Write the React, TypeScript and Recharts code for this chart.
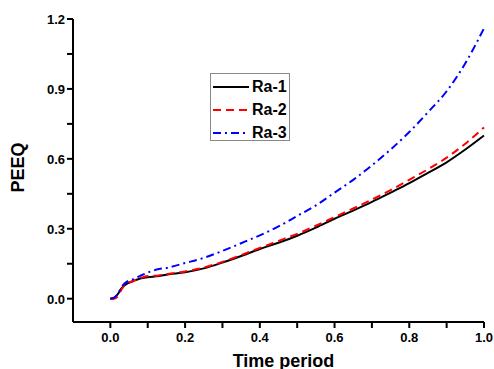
import React from 'react';
import { LineChart, Line, XAxis, YAxis } from 'recharts';

const timePeriod = [0, 0.01, 0.02, 0.03, 0.04, 0.06, 0.08, 0.1, 0.13, 0.15, 0.2, 0.25, 0.3, 0.35, 0.4, 0.45, 0.5, 0.55, 0.6, 0.65, 0.7, 0.75, 0.8, 0.85, 0.9, 0.95, 1.0];
const ra1 = [0, 0.003, 0.02, 0.045, 0.06, 0.075, 0.087, 0.092, 0.097, 0.103, 0.113, 0.13, 0.155, 0.183, 0.213, 0.24, 0.27, 0.305, 0.343, 0.378, 0.415, 0.455, 0.496, 0.54, 0.585, 0.64, 0.7];
const ra2 = [0, 0, 0.01, 0.04, 0.06, 0.075, 0.088, 0.097, 0.1, 0.105, 0.117, 0.134, 0.158, 0.187, 0.218, 0.248, 0.278, 0.313, 0.35, 0.387, 0.425, 0.466, 0.51, 0.555, 0.605, 0.665, 0.735];
const ra3 = [0, 0.005, 0.02, 0.05, 0.068, 0.083, 0.098, 0.112, 0.127, 0.132, 0.153, 0.175, 0.205, 0.238, 0.272, 0.31, 0.355, 0.4, 0.455, 0.51, 0.572, 0.64, 0.715, 0.8, 0.89, 1.01, 1.16];

const xTicks = [0, 0.1, 0.2, 0.3, 0.4, 0.5, 0.6, 0.7, 0.8, 0.9, 1.0];
const xLabels = [0, 0.2, 0.4, 0.6, 0.8, 1.0];
const yTicks = [0, 0.15, 0.3, 0.45, 0.6, 0.75, 0.9, 1.05, 1.2];
const yLabels = [0, 0.3, 0.6, 0.9, 1.2];

const data = timePeriod.map((t, i) => ({ t, ra1: ra1[i], ra2: ra2[i], ra3: ra3[i] }));

const FONT = 'Arial, Liberation Sans, sans-serif';

const isLabel = (list: number[], v: number) => list.some((l) => Math.abs(l - v) < 1e-6);

const XTick = (props: any) => {
  const { x, y, payload } = props;
  const show = isLabel(xLabels, payload.value);
  return (
    <text x={x} y={y + 12} textAnchor="middle" fontSize={13} fontWeight="bold" fontFamily={FONT} fill="#000">
      {show ? payload.value.toFixed(1) : ''}
    </text>
  );
};

const YTick = (props: any) => {
  const { x, y, payload } = props;
  const show = isLabel(yLabels, payload.value);
  return (
    <text x={x} y={y + 5} textAnchor="end" fontSize={13} fontWeight="bold" fontFamily={FONT} fill="#000">
      {show ? payload.value.toFixed(1) : ''}
    </text>
  );
};

const legendItems = [
  { name: 'Ra-1', color: '#000000', dash: undefined },
  { name: 'Ra-2', color: '#ff0000', dash: '8 5' },
  { name: 'Ra-3', color: '#0000ff', dash: '8 4 2 4' },
];

export default function App() {
  return (
    <div style={{ position: 'absolute', left: 0, top: 0, width: 494, height: 369, background: '#fff' }}>
      <LineChart width={494} height={369} data={data} margin={{ top: 19, right: 10, left: 0, bottom: 0 }}>
        <XAxis
          dataKey="t"
          type="number"
          domain={[-0.1, 1.0]}
          ticks={xTicks}
          interval={0}
          tick={<XTick />}
          stroke="#000"
          strokeWidth={2}
          height={47}
          label={{ value: 'Time period', position: 'insideBottom', offset: 2, fill: '#000', fontSize: 18, fontWeight: 'bold', fontFamily: FONT, dx: 5 }}
        />
        <YAxis
          type="number"
          domain={[-0.1, 1.2]}
          ticks={yTicks}
          interval={0}
          tick={<YTick />}
          stroke="#000"
          strokeWidth={2}
          width={73}
          label={{ value: 'PEEQ', angle: -90, position: 'insideLeft', offset: 18, fill: '#000', fontSize: 18, fontWeight: 'bold', fontFamily: FONT, dy: 22 }}
        />
        <Line type="monotone" dataKey="ra1" stroke="#000000" strokeWidth={2} dot={false} isAnimationActive={false} />
        <Line type="monotone" dataKey="ra2" stroke="#ff0000" strokeWidth={2} strokeDasharray="8 5" dot={false} isAnimationActive={false} />
        <Line type="monotone" dataKey="ra3" stroke="#0000ff" strokeWidth={2} strokeDasharray="8 4 2 4" dot={false} isAnimationActive={false} />
      </LineChart>
      <div
        style={{
          position: 'absolute',
          left: 210,
          top: 73,
          width: 80,
          height: 68,
          border: '1px solid #888',
          background: '#fff',
          boxSizing: 'border-box',
        }}
      >
        {legendItems.map((it, i) => (
          <div key={it.name} style={{ position: 'absolute', left: 1, top: 3 + i * 23, height: 20, display: 'flex', alignItems: 'center' }}>
            <svg width={38} height={20}>
              <line x1={1} x2={37} y1={10} y2={10} stroke={it.color} strokeWidth={2} strokeDasharray={it.dash} />
            </svg>
            <span style={{ fontFamily: FONT, fontWeight: 'bold', fontSize: 16, marginLeft: 2 }}>{it.name}</span>
          </div>
        ))}
      </div>
    </div>
  );
}
